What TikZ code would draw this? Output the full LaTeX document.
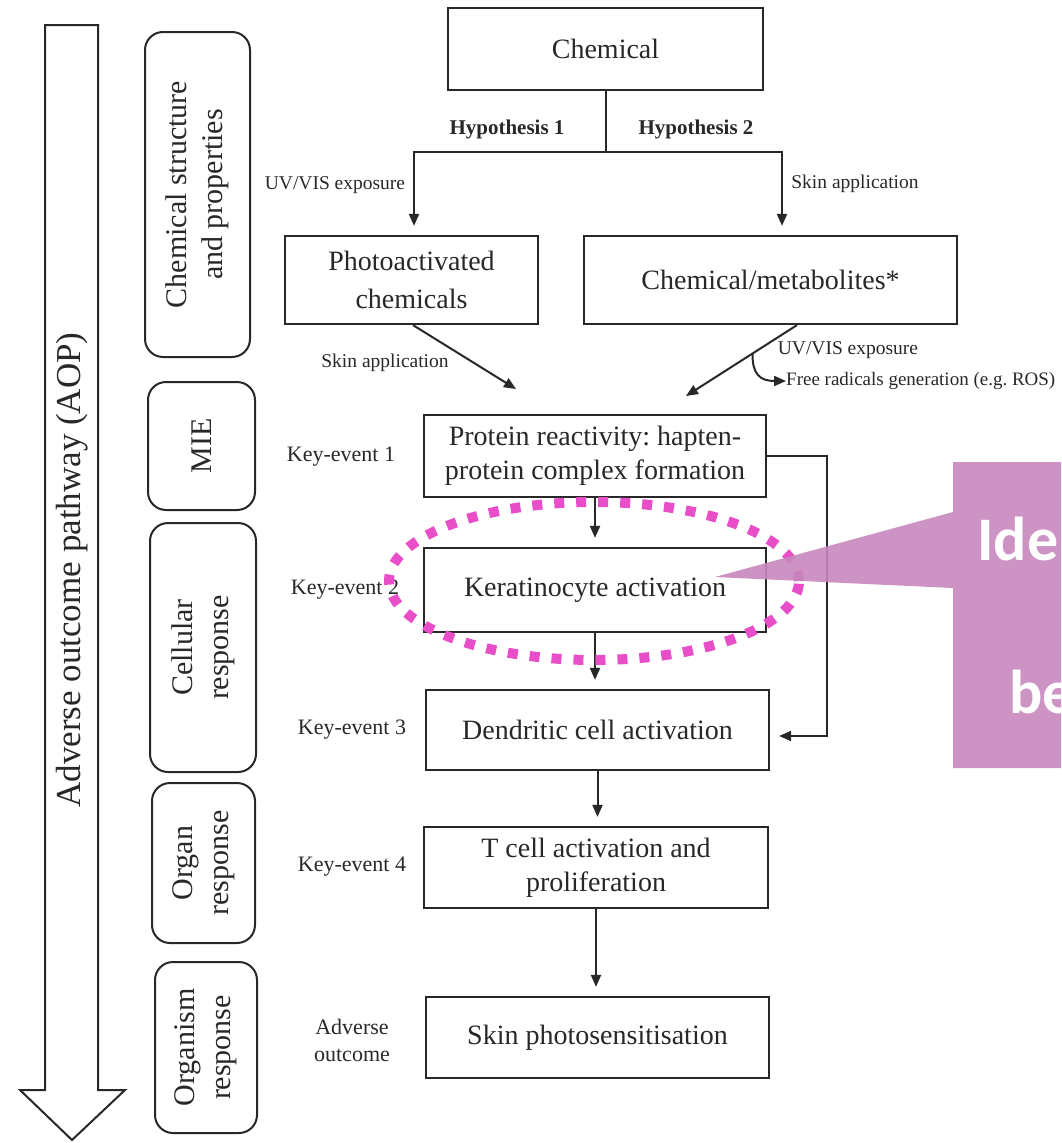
\documentclass[tikz,border=0pt]{standalone}
\usepackage{fontspec}
\setmainfont{Liberation Serif}
\newfontfamily\calloutfont{Carlito}
\usetikzlibrary{arrows.meta,calc,shapes.geometric}
\definecolor{ink}{RGB}{40,40,40}
\definecolor{hilite}{RGB}{232,78,200}
\definecolor{calloutcol}{RGB}{200,135,190}
\frenchspacing
\begin{document}
\begin{tikzpicture}[x=1pt,y=-1pt,
 box/.style={draw=ink, line width=2.2pt, fill=white, text=ink, align=center, inner sep=0pt, font=\fontsize{28}{34}\selectfont},
 phase/.style={draw=ink, line width=2pt, rounded corners=18pt, rotate=90, align=center, inner sep=0pt, text=ink, font=\fontsize{30}{36}\selectfont},
 lab/.style={text=ink, font=\fontsize{22}{27}\selectfont, align=center, inner sep=0pt},
 small/.style={text=ink, font=\fontsize{19.5}{23}\selectfont, inner sep=0pt},
 hyp/.style={text=ink, font=\bfseries\fontsize{21}{25}\selectfont, inner sep=0pt},
 conn/.style={draw=ink, line width=2pt},
 arr/.style={conn, -{Triangle[length=12pt,width=10pt]}, shorten >=9pt},
 arrfree/.style={conn, -{Triangle[length=12pt,width=10pt]}},
 calltext/.style={text=white, font=\calloutfont\bfseries\fontsize{62}{70}\selectfont, inner sep=0pt, anchor=base west},
]
\useasboundingbox (0,0) rectangle (1061,1143);
\clip (0,0) rectangle (1061,1143);

% AOP arrow
\draw[conn, fill=white] (45,25) -- (98,25) -- (98,1090) -- (125,1090) -- (72,1140) -- (20,1090) -- (45,1090) -- cycle;
\node[rotate=90, text=ink, inner sep=0pt, font=\fontsize{35}{40}\selectfont] (aop) at (72,570) {Adverse outcome pathway (AOP)};

% phase boxes
\node[phase, minimum width=325, minimum height=105] (ph1) at (197.5,194.5) {Chemical structure\\and properties};
\node[phase, minimum width=128, minimum height=107] (ph2) at (201.5,446) {MIE};
\node[phase, minimum width=249, minimum height=106] (ph3) at (203,647.5) {Cellular\\response};
\node[phase, minimum width=160, minimum height=103] (ph4) at (203.5,863) {Organ\\response};
\node[phase, minimum width=171, minimum height=102] (ph5) at (206,1047.5) {Organism\\response};

% main boxes
\node[box, minimum width=315, minimum height=82] (chem) at (605.5,49) {Chemical};
\node[box, minimum width=253, minimum height=88, font=\fontsize{28}{38}\selectfont] (photo) at (411.5,280) {Photoactivated\\chemicals};
\node[box, minimum width=373, minimum height=88] (metab) at (770.5,280) {Chemical/metabolites*};
\node[box, minimum width=342, minimum height=82] (protein) at (595,456) {Protein reactivity: hapten-\\protein complex formation};
\node[box, minimum width=342, minimum height=84] (kera) at (595,590) {Keratinocyte activation};
\node[box, minimum width=343, minimum height=80] (dendr) at (597.5,730) {Dendritic cell activation};
\node[box, minimum width=344, minimum height=81] (tcell) at (596,867.5) {T cell activation and\\proliferation};
\node[box, minimum width=343, minimum height=81] (skin) at (597.5,1037.5) {Skin photosensitisation};

% key event labels
\node[lab] (ke1) at (341,457) {Key-event 1};
\node[lab] (ke2) at (345,590) {Key-event 2};
\node[lab] (ke3) at (352,730) {Key-event 3};
\node[lab] (ke4) at (352,867) {Key-event 4};
\node[lab] (ao) at (352,1040) {Adverse\\outcome};

% hypotheses
\coordinate (split) at (chem.south |- 0,152);
\draw[conn] (chem.south) -- (split);
\draw[arr] (split) -| ([xshift=2.5pt]photo.north);
\draw[arr] (split) -| ([xshift=11.5pt]metab.north);
\node[hyp] (h1) at (507,129) {Hypothesis 1};
\node[hyp] (h2) at (696,129) {Hypothesis 2};
\node[small] (uv1) at (335,185) {UV/VIS exposure};
\node[small] (sk1) at (855,184) {Skin application};

% diagonal arrows
\coordinate (m1) at (516,389);
\coordinate (m2) at (686,396);
\coordinate (s2) at ($(metab.south)+(26.5,0)$);
\draw[arrfree] ([xshift=1.5pt]photo.south) -- (m1);
\draw[arrfree] (s2) -- (m2);
\node[small] (sk2) at (385,363) {Skin application};
\node[small] (uv2) at (848,350) {UV/VIS exposure};
\node[small, anchor=west, font=\fontsize{19}{23}\selectfont] (fr) at (786,381) {Free radicals generation (e.g. ROS)};
\coordinate (br) at ($(s2)!0.4!(m2)$);
\draw[arrfree] (br) .. controls (752,374) and (760,381) .. (fr.west);

% pathway arrows
\draw[arr] (protein.south) -- (kera.north);
\draw[arr] (kera.south) -- (kera.south |- dendr.north);
\draw[arr] (dendr.south) -- (dendr.south |- tcell.north);
\draw[arr] (tcell.south) -- (tcell.south |- skin.north);
\coordinate (rc) at (827,736);
\draw[arr] (protein.east) -| (rc) -- (rc -| dendr.east);

% highlight ring
\node[ellipse, draw=hilite, line width=10pt, dash pattern=on 10pt off 12pt, inner sep=0pt, minimum width=410, minimum height=158] (ring) at (594,581) {};

% callout
\fill[calloutcol, fill opacity=0.9] (953,462) -- (1061,462) -- (1061,768) -- (953,768) -- (953,588) -- (715,577) -- (953,512) -- cycle;
\node[calltext] (c1) at (977,560) {Ide};
\node[calltext] (c2) at (1009,713) {be};
\end{tikzpicture}
\end{document}
